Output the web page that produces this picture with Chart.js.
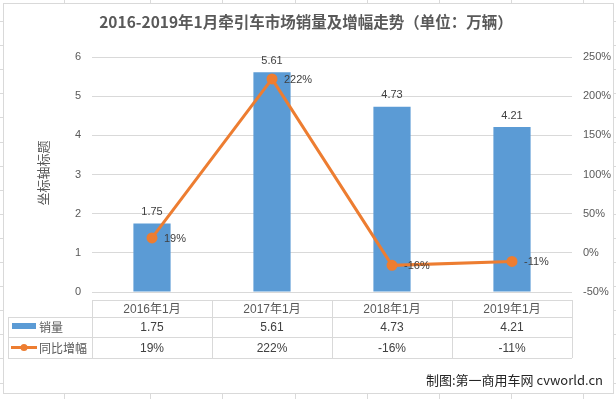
<!DOCTYPE html>
<html><head><meta charset="utf-8">
<script src="https://cdn.jsdelivr.net/npm/chart.js@4/dist/chart.umd.min.js"></script>
<style>html,body{margin:0;padding:0;background:#fff;}canvas{display:block;}</style>
</head><body>
<canvas id="c" width="616" height="399"></canvas>
<script>
const categories = ['2016年1月','2017年1月','2018年1月','2019年1月'];
const salesLabel = '销量';
const salesValues = [1.75, 5.61, 4.73, 4.21];
const growthLabel = '同比增幅';
const growthValues = [0.19, 2.22, -0.16, -0.11];
const titleText = '2016-2019年1月牵引车市场销量及增幅走势（单位：万辆）';
const yTitleText = '坐标轴标题';
const footerText = '制图:第一商用车网 cvworld.cn';

const FONT = '"Liberation Sans","Noto Sans CJK SC",sans-serif';
const CJK = '"Noto Sans CJK SC","Liberation Sans",sans-serif';
const BLUE = '#5B9BD5', ORANGE = '#ED7D31', GRID = '#D9D9D9', TXT = '#595959', DARK = '#404040';
const pct = v => Math.round(v*100) + '%';

const bgPlugin = {
  id: 'bg',
  beforeDraw(chart) {
    const ctx = chart.ctx;
    ctx.save();
    ctx.fillStyle = '#fff';
    ctx.fillRect(0,0,616,399);
    ctx.strokeStyle = '#DADADA';
    ctx.lineWidth = 1;
    const vx = [64, 150, 222, 295, 367, 439, 511, 583];
    const hy = [];
    for (let y = 21; y < 399; y += 24.1) hy.push(Math.round(y));
    ctx.beginPath();
    vx.forEach(x => { ctx.moveTo(x+0.5,0); ctx.lineTo(x+0.5,399); });
    hy.forEach(y => { ctx.moveTo(0,y+0.5); ctx.lineTo(616,y+0.5); });
    ctx.stroke();
    ctx.fillStyle = '#fff';
    ctx.fillRect(3,3,610,390);
    ctx.strokeStyle = GRID;
    ctx.strokeRect(3.5,3.5,610,390);
    // title
    ctx.fillStyle = TXT;
    ctx.font = 'bold 15.5px ' + CJK;
    ctx.textAlign = 'center';
    ctx.textBaseline = 'middle';
    ctx.fillText(titleText, 306, 22);
    // y title
    ctx.save();
    ctx.translate(43, 173);
    ctx.rotate(-Math.PI/2);
    ctx.font = '13px ' + CJK;
    ctx.fillText(yTitleText, 0, 0);
    ctx.restore();
    ctx.restore();
  },
  afterDraw(chart) {
    const ctx = chart.ctx;
    const x = chart.scales.x;
    const area = chart.chartArea;
    const L = area.left, R = area.right;
    const ys = [300, 317, 337, 358];
    ctx.save();
    ctx.strokeStyle = GRID;
    ctx.lineWidth = 1;
    ctx.beginPath();
    ctx.moveTo(L, ys[0]+0.5); ctx.lineTo(R, ys[0]+0.5);
    for (let i = 1; i < 4; i++) { ctx.moveTo(8, ys[i]+0.5); ctx.lineTo(R, ys[i]+0.5); }
    ctx.moveTo(8.5, ys[1]); ctx.lineTo(8.5, ys[3]);
    const n = categories.length;
    const w = (R - L) / n;
    for (let i = 0; i <= n; i++) {
      const xx = Math.round(L + i*w) + 0.5;
      ctx.moveTo(xx, ys[0]); ctx.lineTo(xx, ys[3]);
    }
    ctx.stroke();
    ctx.textAlign = 'center';
    ctx.textBaseline = 'middle';
    ctx.font = '12px ' + FONT;
    categories.forEach((c, i) => {
      const cx = x.getPixelForValue(i);
      ctx.fillStyle = TXT;
      ctx.fillText(c, cx, (ys[0]+ys[1])/2 + 1);
      ctx.fillStyle = DARK;
      ctx.fillText(String(salesValues[i]), cx, (ys[1]+ys[2])/2 + 1);
      ctx.fillText(pct(growthValues[i]), cx, (ys[2]+ys[3])/2 + 1);
    });
    // legend keys
    ctx.fillStyle = BLUE;
    ctx.fillRect(12, 323, 24, 6);
    ctx.strokeStyle = ORANGE;
    ctx.lineWidth = 3;
    ctx.beginPath(); ctx.moveTo(11, 347.5); ctx.lineTo(37, 347.5); ctx.stroke();
    ctx.fillStyle = ORANGE;
    ctx.beginPath(); ctx.arc(24, 347.5, 3.5, 0, Math.PI*2); ctx.fill();
    ctx.fillStyle = TXT;
    ctx.textAlign = 'left';
    ctx.font = '12px ' + CJK;
    ctx.fillText(salesLabel, 39, 327);
    ctx.fillText(growthLabel, 39, 348);
    // footer
    ctx.textAlign = 'right';
    ctx.fillStyle = '#262626';
    ctx.font = '13px ' + CJK;
    ctx.fillText(footerText, 603, 380);
    ctx.restore();
  },
  afterDatasetsDraw(chart) {
    const ctx = chart.ctx;
    ctx.save();
    ctx.font = '11px ' + FONT;
    ctx.fillStyle = DARK;
    const barMeta = chart.getDatasetMeta(0);
    ctx.textAlign = 'center';
    ctx.textBaseline = 'bottom';
    barMeta.data.forEach((el, i) => {
      ctx.fillText(salesValues[i].toFixed(2), el.x, el.y - 6);
    });
    const lineMeta = chart.getDatasetMeta(1);
    ctx.textAlign = 'left';
    ctx.textBaseline = 'middle';
    lineMeta.data.forEach((el, i) => {
      ctx.fillText(pct(growthValues[i]), el.x + 12, el.y + 1);
    });
    ctx.restore();
  }
};

new Chart(document.getElementById('c'), {
  data: {
    labels: categories,
    datasets: [
      { type: 'bar', label: salesLabel, data: salesValues, backgroundColor: BLUE, yAxisID: 'y', order: 2, barPercentage: 0.62, categoryPercentage: 0.5 },
      { type: 'line', label: growthLabel, data: growthValues, borderColor: ORANGE, backgroundColor: ORANGE, borderWidth: 3, pointRadius: 4, pointHoverRadius: 4, tension: 0, yAxisID: 'y1', order: 1 }
    ]
  },
  options: {
    responsive: false,
    animation: false,
    devicePixelRatio: 1,
    layout: { padding: { top: 57, bottom: 107, left: 0, right: 0 } },
    plugins: { legend: { display: false }, tooltip: { enabled: false }, title: { display: false } },
    scales: {
      x: { display: false, offset: true },
      y: {
        position: 'left', min: 0, max: 6,
        ticks: { stepSize: 1, color: TXT, font: { size: 11, family: FONT }, padding: 11 },
        grid: { color: GRID, drawTicks: false },
        border: { display: false },
        afterFit(s) { s.width = 92; }
      },
      y1: {
        position: 'right', min: -0.5, max: 2.5,
        ticks: { stepSize: 0.5, color: TXT, font: { size: 11, family: FONT }, padding: 11, callback: v => pct(v) },
        grid: { display: false, drawTicks: false },
        border: { display: false },
        afterFit(s) { s.width = 44; }
      }
    }
  },
  plugins: [bgPlugin]
});
</script>
</body></html>
